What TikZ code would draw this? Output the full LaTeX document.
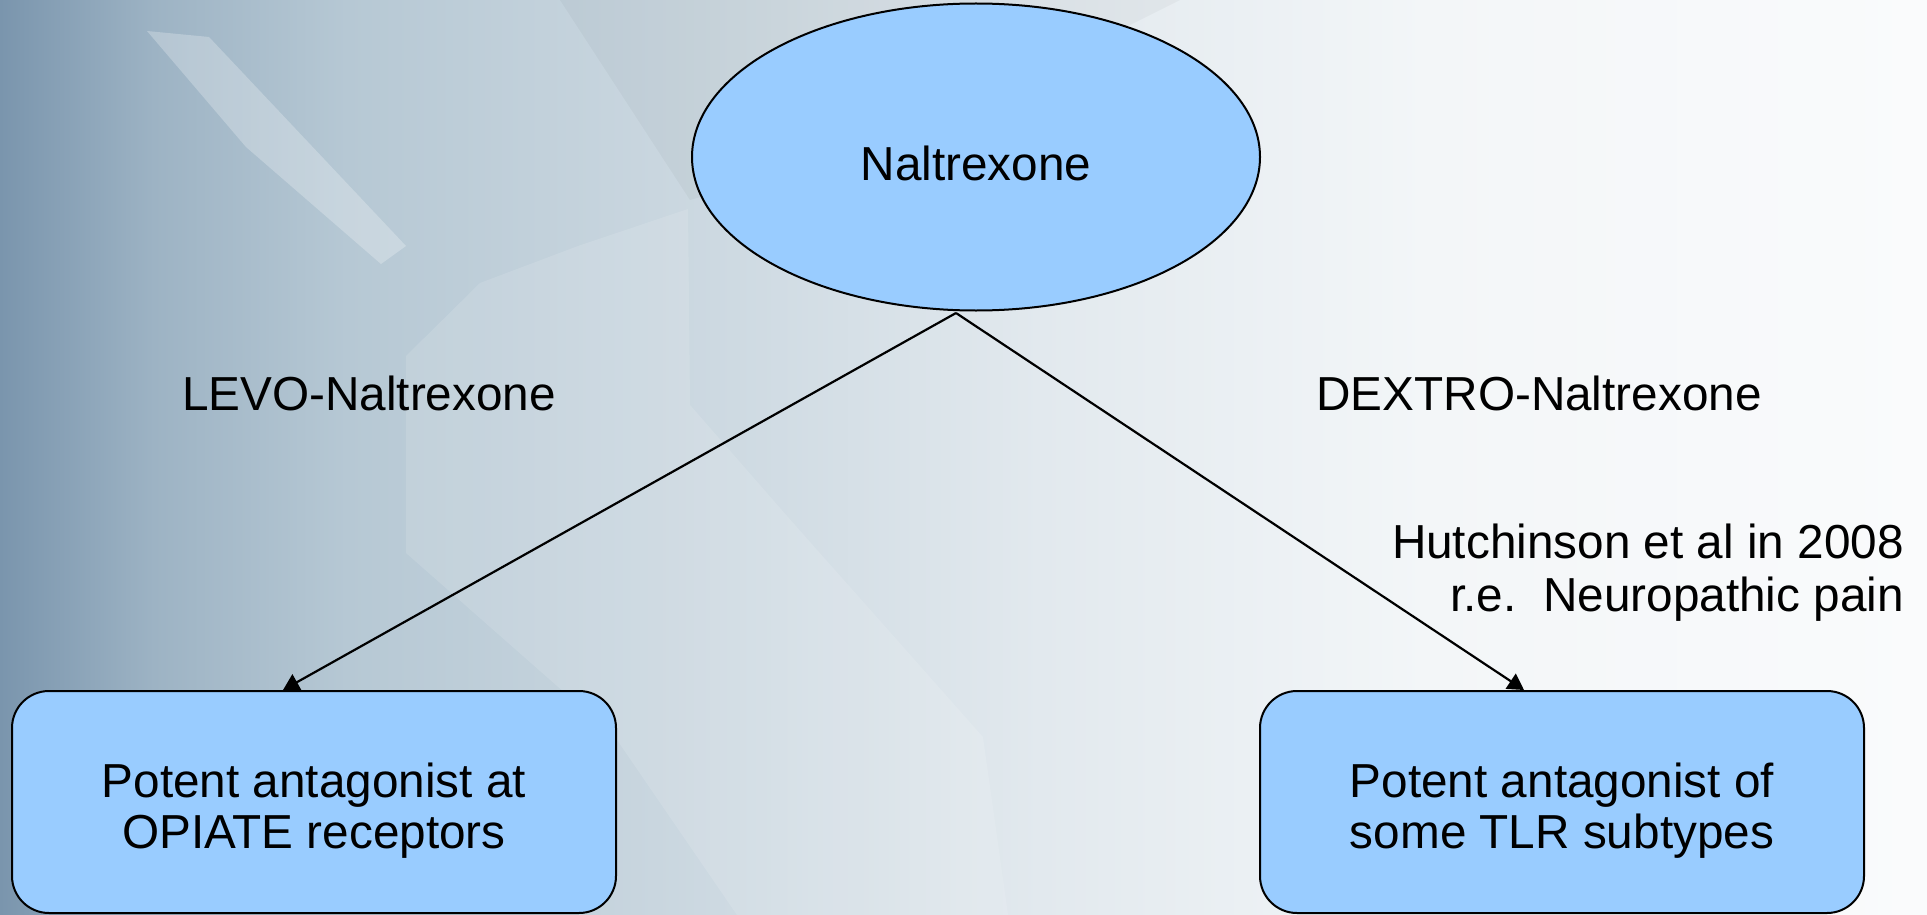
\documentclass[tikz,border=0pt]{standalone}
\usepackage{fontspec}
\setmainfont{Liberation Sans}
\usetikzlibrary{shapes.geometric,arrows.meta}
\definecolor{boxblue}{HTML}{99CCFF}
\definecolor{b0}{HTML}{7A95AD}
\definecolor{b1}{HTML}{9DB3C4}
\definecolor{b2}{HTML}{B6C8D4}
\definecolor{b3}{HTML}{C9D6DF}
\definecolor{b4}{HTML}{E2E9EE}
\definecolor{b5}{HTML}{F3F6F8}
\definecolor{b6}{HTML}{FAFBFC}
\pgfdeclarehorizontalshading{bgshade}{100bp}{color(0bp)=(b0); color(25bp)=(b0); color(29bp)=(b1); color(34bp)=(b2); color(42bp)=(b3); color(52bp)=(b4); color(62bp)=(b5); color(75bp)=(b6); color(100bp)=(b6)}
\tikzset{
  txt/.style={font=\fontsize{47.7}{51}\selectfont, inner sep=0pt},
  elnode/.style={ellipse, draw=black, line width=2pt, fill=boxblue, minimum width=568pt, minimum height=307pt, inner sep=0pt},
  bluebox/.style={rectangle, rounded corners=37pt, draw=black, line width=2pt, fill=boxblue, minimum width=604pt, minimum height=222pt, inner sep=0pt},
  inlabel/.style={font=\fontsize{47.7}{51}\selectfont, align=center, inner sep=0pt},
  conn/.style={line width=2.2pt, -{Triangle[width=18pt,length=16pt]}},
  streak/.style={fill=white, draw=none}
}
\begin{document}
\begin{tikzpicture}[x=1pt,y=-1pt]
\useasboundingbox (0,0) rectangle (1927,915);
\shade[shading=bgshade] (0,0) rectangle (1927,915);
% background streaks
\fill[streak, opacity=0.25] (147,31) -- (209,37) -- (406,246) -- (381,264) -- (246,147) -- cycle;
\fill[streak, opacity=0.12] (480,283) -- (578,246) -- (688,209) -- (690,405) -- (787,516) -- (983,737) -- (1008,915) -- (737,915) -- (615,737) -- (406,553) -- (406,356) -- cycle;
\fill[black, opacity=0.03] (560,0) -- (1180,0) -- (900,140) -- (690,200) -- cycle;
% nodes
\node[elnode, label={[inlabel, yshift=-6pt]center:Naltrexone}] (nal) at (976,157) {};
\node[bluebox, label={[inlabel, yshift=-9pt]center:Potent antagonist at\\OPIATE receptors}] (lbox) at (314,802) {};
\node[bluebox, label={[inlabel, yshift=-9pt]center:Potent antagonist of\\some TLR subtypes}] (rbox) at (1562,802) {};
\node[txt] (levo) at (369,393) {LEVO-Naltrexone};
\node[txt] (dextro) at (1539,393) {DEXTRO-Naltrexone};
\node[txt, align=right, anchor=east, font=\fontsize{47.7}{53}\selectfont] (hutch) at (1904,573) {Hutchinson et al in 2008\\r.e.\ \ Neuropathic pain};
% connectors
\coordinate (apex) at (956,313);
\coordinate (ltip) at (283,690);
\coordinate (rtip) at (1524,690);
\draw[conn] (apex) -- (ltip);
\draw[conn] (apex) -- (rtip);
\end{tikzpicture}
\end{document}
